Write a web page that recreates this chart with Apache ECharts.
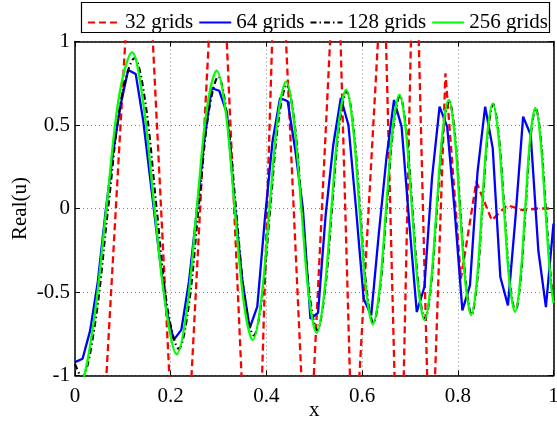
<!DOCTYPE html>
<html>
<head>
<meta charset="utf-8">
<script src="https://cdn.jsdelivr.net/npm/echarts@6/dist/echarts.min.js"></script>
<style>
html,body{margin:0;padding:0;background:#fff;}
#c{width:557px;height:427px;}
</style>
</head>
<body>
<div id="c"></div>
<script>
// ---- data ----
const seriesNames = ['32 grids', '64 grids', '128 grids', '256 grids'];
const xTickValues = [0, 0.2, 0.4, 0.6, 0.8, 1];
const yTickValues = [-1, -0.5, 0, 0.5, 1];

// 32 grids (red dashed): [x, Real(u)] ; values beyond +-1 are clipped by the axes
const red32 = [
  [0, -1.9], [0.0323, -2.69], [0.1358, 2.56], [0.2198, -2.32], [0.2998, 2.13],
  [0.3736, -2.66], [0.4235, 2.10], [0.4856, -1.79], [0.5470, 1.82], [0.5812, -1.68],
  [0.6447, 1.60], [0.6782, -2.18], [0.7096, 2.01], [0.7429, -1.80], [0.7742, 0.81],
  [0.8065, -0.42], [0.8387, 0.16], [0.8710, -0.07], [0.9032, 0.02], [0.9355, -0.01],
  [0.9677, 0.0], [1.0, 0.0]
];

// 64 grids (blue solid): values at the 64 equally spaced grid points on [0,1]
const blue64 = [
  -0.92, -0.90, -0.73, -0.44, -0.03, 0.33, 0.62, 0.83, 0.805, 0.52,
  0.14, -0.24, -0.60, -0.787, -0.727, -0.44, -0.03, 0.40, 0.72, 0.705,
  0.57, 0.04, -0.42, -0.717, -0.588, -0.06, 0.40, 0.662, 0.642, 0.35,
  0.0, -0.66, -0.625, -0.04, 0.38, 0.662, 0.50, 0.0, -0.54, -0.64,
  -0.15, 0.30, 0.65, 0.49, -0.08, -0.62, -0.47, 0.18, 0.61, 0.49,
  -0.02, -0.61, -0.46, 0.22, 0.61, 0.36, -0.41, -0.58, -0.05, 0.55,
  0.44, -0.25, -0.59, -0.09
];

// 128 grids (black dash-dot): [x, Real(u)]
const black128 = [
  [0, -0.93], [0.014, -1.01], [0.0416, -0.695], [0.0692, 0], [0.0967, 0.656], [0.1243, 0.90],
  [0.1475, 0.626], [0.1706, 0], [0.1938, -0.605], [0.2169, -0.84], [0.2376, -0.585], [0.2582, 0],
  [0.2789, 0.567], [0.2995, 0.79], [0.318, 0.553], [0.3365, 0], [0.355, -0.543], [0.3735, -0.76],
  [0.3908, -0.534], [0.408, 0], [0.4253, 0.527], [0.4425, 0.74], [0.4585, 0.521], [0.4744, 0],
  [0.4904, -0.518], [0.5063, -0.73], [0.5217, -0.511], [0.5371, 0], [0.5524, 0.50], [0.5678, 0.70],
  [0.5817, 0.492], [0.5957, 0], [0.6096, -0.487], [0.6235, -0.685], [0.6374, -0.483], [0.6513, 0],
  [0.6651, 0.479], [0.679, 0.675], [0.6921, 0.475], [0.7052, 0], [0.7182, -0.471], [0.7313, -0.663],
  [0.7439, -0.466], [0.7566, 0], [0.7692, 0.46], [0.7818, 0.647], [0.7936, 0.455], [0.8053, 0],
  [0.8171, -0.451], [0.8288, -0.635], [0.8401, -0.447], [0.8513, 0], [0.8626, 0.444], [0.8738, 0.625],
  [0.8855, 0.44], [0.8972, 0], [0.9088, -0.437], [0.9205, -0.615], [0.9311, -0.432], [0.9417, 0],
  [0.9522, 0.427], [0.9628, 0.60], [0.9734, 0.422], [0.9839, 0], [0.9945, -0.419], [1.0, -0.55]
];

// 256 grids (green solid): [x, Real(u)]
const green256 = [
  [0, -1.05], [0.008, -1.06], [0.037, -0.72], [0.0655, 0], [0.0925, 0.68], [0.1193, 0.935],
  [0.1427, 0.629], [0.166, 0], [0.1894, -0.585], [0.2127, -0.873], [0.2336, -0.609], [0.2545, 0],
  [0.2754, 0.592], [0.2963, 0.825], [0.3151, 0.577], [0.334, 0], [0.3528, -0.563], [0.3716, -0.787],
  [0.389, -0.552], [0.4064, 0], [0.4238, 0.542], [0.4412, 0.76], [0.4572, 0.535], [0.4731, 0],
  [0.4891, -0.53], [0.505, -0.745], [0.5204, -0.52], [0.5358, 0], [0.5512, 0.509], [0.5666, 0.711],
  [0.5806, 0.50], [0.5945, 0], [0.6085, -0.493], [0.6224, -0.693], [0.6363, -0.488], [0.6502, 0],
  [0.6641, 0.484], [0.678, 0.681], [0.6911, 0.479], [0.7042, 0], [0.7173, -0.474], [0.7304, -0.668],
  [0.7431, -0.469], [0.7557, 0], [0.7684, 0.463], [0.781, 0.651], [0.7928, 0.458], [0.8045, 0],
  [0.8163, -0.453], [0.828, -0.638], [0.8393, -0.449], [0.8505, 0], [0.8618, 0.446], [0.873, 0.628],
  [0.8847, 0.442], [0.8964, 0], [0.908, -0.439], [0.9197, -0.618], [0.9303, -0.434], [0.9409, 0],
  [0.9514, 0.428], [0.962, 0.602], [0.9725, 0.424], [0.983, 0], [0.9935, -0.419], [1.0, -0.565]
];

// ---- chart ----
const FONT = '"Liberation Serif", "Times New Roman", serif';
const blueData = blue64.map((v, i) => [i / (blue64.length - 1), v]);

const chart = echarts.init(document.getElementById('c'), null, {renderer: 'canvas'});

const tickStyle = {show: true, inside: true, length: 5, lineStyle: {color: '#000', width: 1}};
const lineAxis = {show: true, onZero: false, lineStyle: {color: '#000', width: 1.5}};
const gridLine = {show: true, lineStyle: {color: '#8a8a8a', width: 1, type: [1, 3]}};

const option = {
  animation: false,
  backgroundColor: '#fff',
  grid: {left: 75, top: 41.5, width: 478.5, height: 334, containLabel: false, outerBoundsMode: 'none'},
  legend: {
    data: seriesNames,
    left: 82, top: 7,
    itemWidth: 32, itemHeight: 14, itemGap: 5,
    itemStyle: {opacity: 0},
    textStyle: {fontFamily: FONT, fontSize: 21, color: '#000'}
  },
  graphic: [{
    type: 'rect', z: 100,
    shape: {x: 81.5, y: 2.5, width: 468, height: 30},
    style: {fill: 'none', stroke: '#000', lineWidth: 1.2}
  }],
  xAxis: [{
    type: 'value', min: xTickValues[0], max: xTickValues[xTickValues.length - 1], interval: 0.2,
    position: 'bottom',
    axisLine: lineAxis, axisTick: tickStyle,
    axisLabel: {color: '#000', fontFamily: FONT, fontSize: 21, margin: 10},
    splitLine: gridLine,
    name: 'x', nameLocation: 'middle', nameGap: 24, nameMoveOverlap: false,
    nameTextStyle: {color: '#000', fontFamily: FONT, fontSize: 21}
  }, {
    type: 'value', min: 0, max: 1, interval: 0.2, position: 'top',
    axisLine: lineAxis, axisTick: tickStyle,
    axisLabel: {show: false}, splitLine: {show: false}
  }],
  yAxis: [{
    type: 'value', min: yTickValues[0], max: yTickValues[yTickValues.length - 1], interval: 0.5,
    position: 'left',
    axisLine: lineAxis, axisTick: tickStyle,
    axisLabel: {color: '#000', fontFamily: FONT, fontSize: 21, margin: 5},
    splitLine: gridLine,
    name: 'Real(u)', nameLocation: 'middle', nameGap: 44, nameMoveOverlap: false,
    nameTextStyle: {color: '#000', fontFamily: FONT, fontSize: 21}
  }, {
    type: 'value', min: -1, max: 1, interval: 0.5, position: 'right',
    axisLine: lineAxis, axisTick: tickStyle,
    axisLabel: {show: false}, splitLine: {show: false}
  }],
  series: [{
    name: seriesNames[0], type: 'line', data: red32, symbol: 'none', clip: true,
    lineStyle: {color: '#ff0000', width: 2.3, type: [7, 4]}, itemStyle: {color: '#ff0000'}
  }, {
    name: seriesNames[1], type: 'line', data: blueData, symbol: 'none', clip: true,
    lineStyle: {color: '#0000ff', width: 2.3}, itemStyle: {color: '#0000ff'}
  }, {
    name: seriesNames[2], type: 'line', data: black128, symbol: 'none', clip: true, smooth: 0.35,
    lineStyle: {color: '#000000', width: 2.1, type: [6, 3, 1.5, 3]}, itemStyle: {color: '#000000'}
  }, {
    name: seriesNames[3], type: 'line', data: green256, symbol: 'none', clip: true, smooth: 0.35,
    lineStyle: {color: '#00ff00', width: 2.3}, itemStyle: {color: '#00ff00'}
  }]
};
chart.setOption(option);
</script>
</body>
</html>
